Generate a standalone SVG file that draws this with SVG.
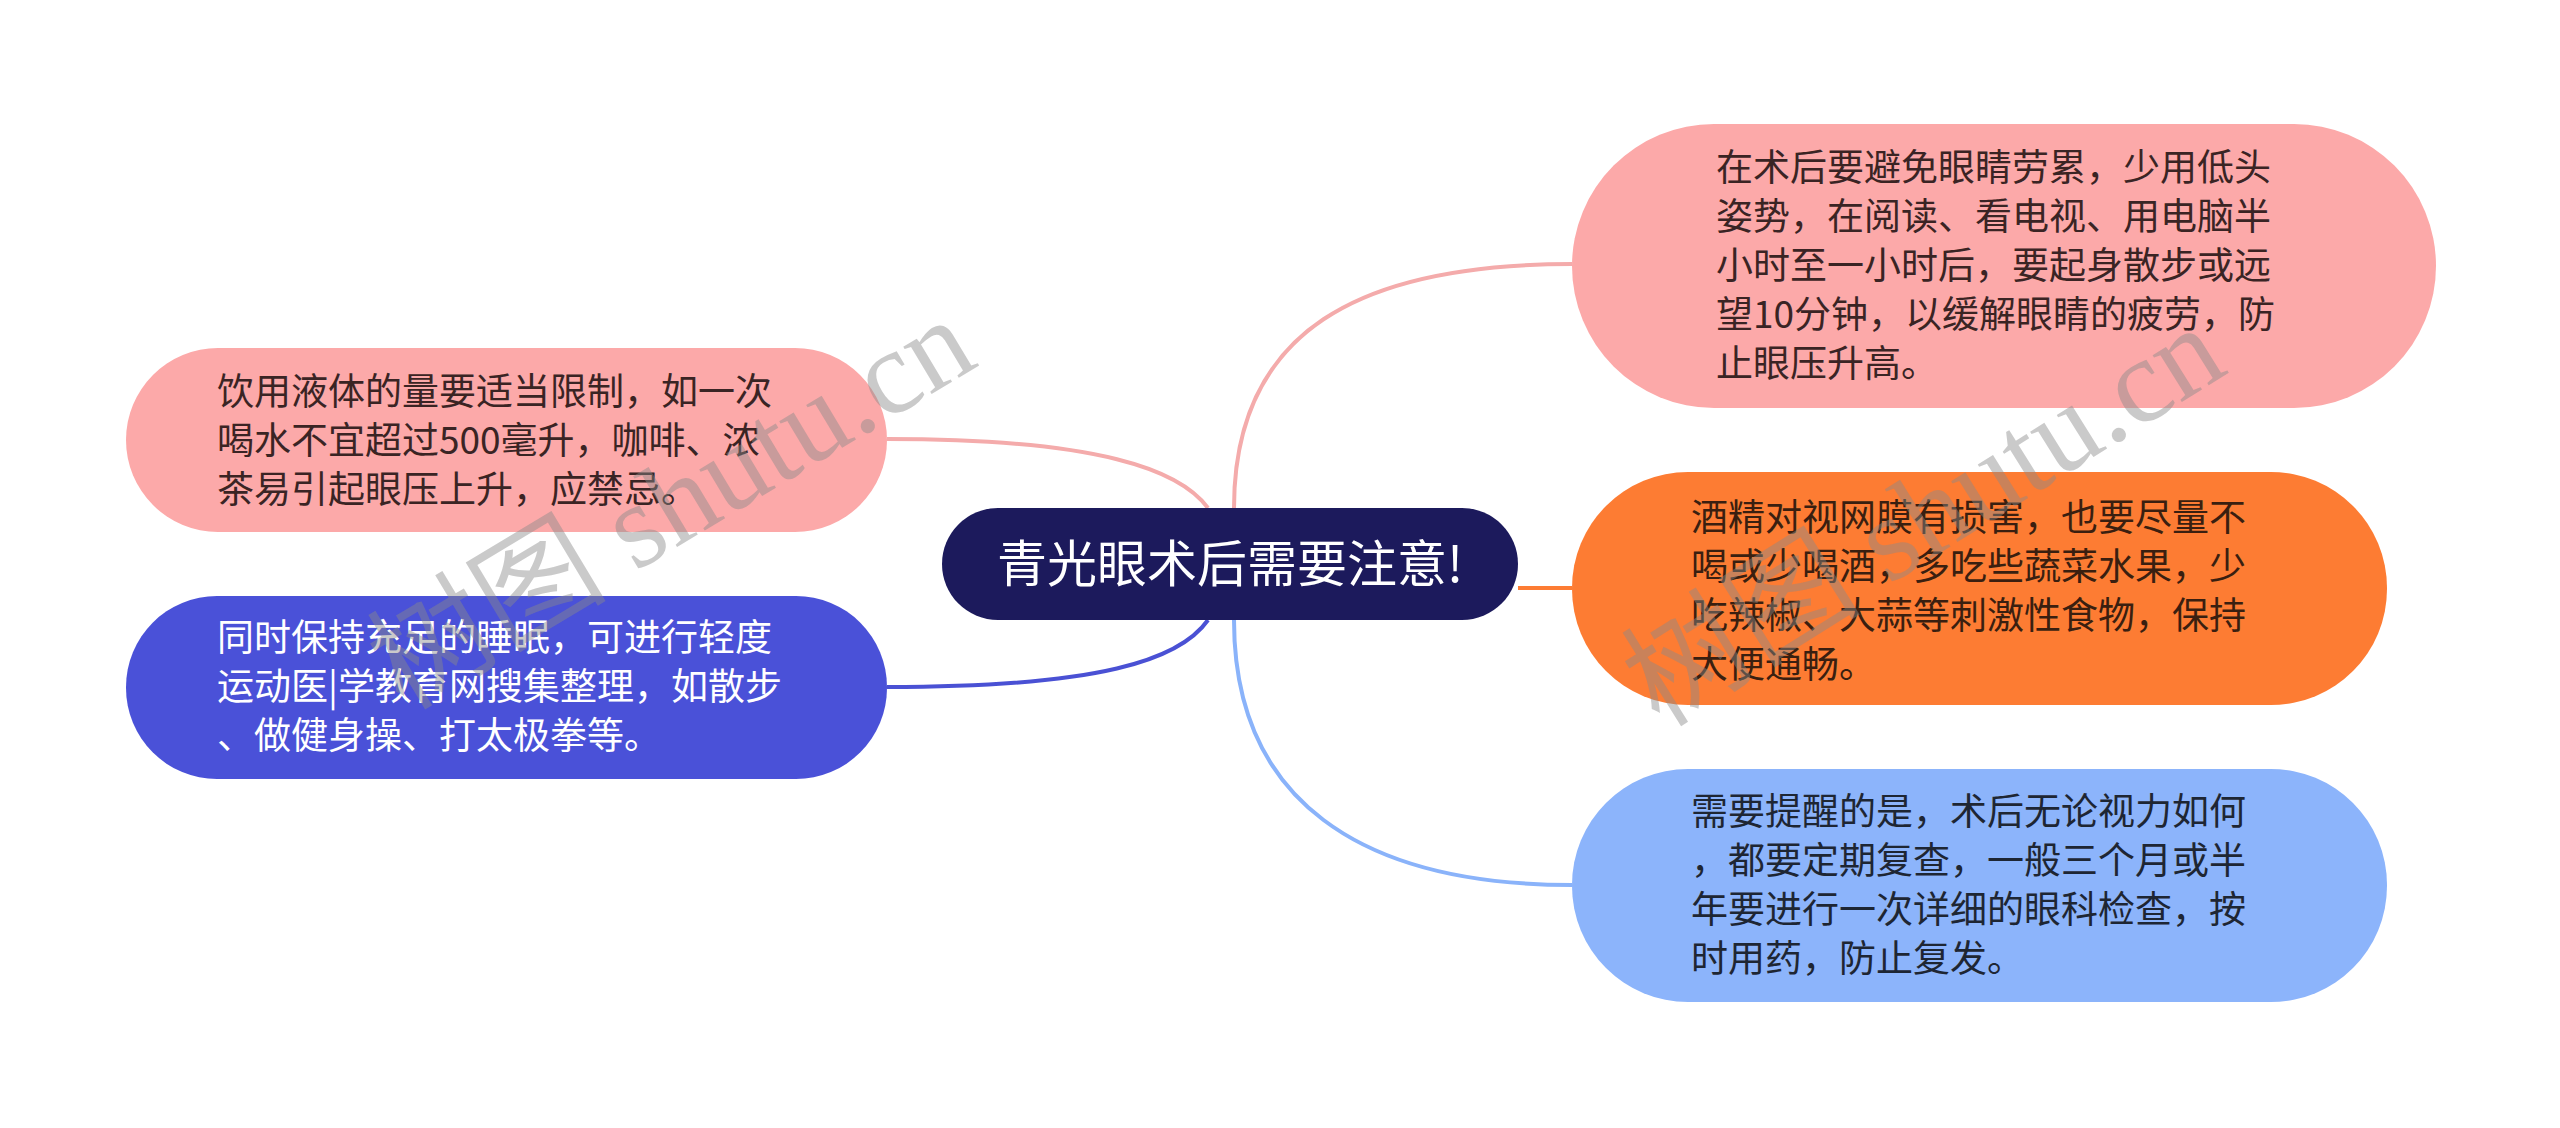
<svg xmlns="http://www.w3.org/2000/svg" width="2560" height="1128" viewBox="0 0 2560 1128">
<style>
.t{font-family:"Noto Sans CJK SC","Liberation Sans",sans-serif;font-size:37px}
.dark{fill:#3a2424}
.wm{font-family:"Liberation Serif","Noto Sans CJK SC",serif;font-size:120px;fill:#8a8a8a;fill-opacity:0.45}
.c{fill:none;stroke-width:4}
</style>
<rect width="2560" height="1128" fill="#ffffff"/>
<g id="connectors">
<path class="c" d="M1234 508 C1234 330 1360 264 1572 264" stroke="#f4abab"/>
<path class="c" d="M1518 588 L1572 588" stroke="#fd7c33"/>
<path class="c" d="M1234 620 C1234 800 1360 885 1572 885" stroke="#8ab3fa"/>
<path class="c" d="M1208 508 C1180 470 1100 439 887 439" stroke="#f4abab"/>
<path class="c" d="M1208 620 C1180 660 1100 687 887 687" stroke="#4a51d4"/>
</g>
<g id="center">
<rect x="942" y="508" width="576" height="112" rx="56" fill="#1c1a5c"/>
<text x="1230" y="582" text-anchor="middle" style="font-family:'Noto Sans CJK SC','Liberation Sans',sans-serif;font-size:50px" fill="#ffffff">青光眼术后需要注意!</text>
</g>
<g id="left1">
<rect x="126" y="348" width="761" height="184" rx="92" fill="#fca9a9"/>
<text class="t dark"><tspan x="217" y="405">饮用液体的量要适当限制，如一次</tspan><tspan x="217" y="454">喝水不宜超过500毫升，咖啡、浓</tspan><tspan x="217" y="503">茶易引起眼压上升，应禁忌。</tspan></text>
</g>
<g id="left2">
<rect x="126" y="596" width="761" height="183" rx="91" fill="#4a51d8"/>
<text class="t" fill="#ffffff"><tspan x="217" y="651">同时保持充足的睡眠，可进行轻度</tspan><tspan x="217" y="700">运动医|学教育网搜集整理，如散步</tspan><tspan x="217" y="749">、做健身操、打太极拳等。</tspan></text>
</g>
<g id="right1">
<rect x="1572" y="124" width="864" height="284" rx="142" fill="#fca9a9"/>
<text class="t dark"><tspan x="1716" y="181">在术后要避免眼睛劳累，少用低头</tspan><tspan x="1716" y="230">姿势，在阅读、看电视、用电脑半</tspan><tspan x="1716" y="279">小时至一小时后，要起身散步或远</tspan><tspan x="1716" y="328">望10分钟，以缓解眼睛的疲劳，防</tspan><tspan x="1716" y="377">止眼压升高。</tspan></text>
</g>
<g id="right2">
<rect x="1572" y="472" width="815" height="233" rx="116" fill="#fd7c33"/>
<text class="t" fill="#3a1f10"><tspan x="1691" y="531">酒精对视网膜有损害，也要尽量不</tspan><tspan x="1691" y="580">喝或少喝酒，多吃些蔬菜水果，少</tspan><tspan x="1691" y="629">吃辣椒、大蒜等刺激性食物，保持</tspan><tspan x="1691" y="678">大便通畅。</tspan></text>
</g>
<g id="right3">
<rect x="1572" y="769" width="815" height="233" rx="116" fill="#8cb4fb"/>
<text class="t" fill="#1e2633"><tspan x="1691" y="825">需要提醒的是，术后无论视力如何</tspan><tspan x="1691" y="874">，都要定期复查，一般三个月或半</tspan><tspan x="1691" y="923">年要进行一次详细的眼科检查，按</tspan><tspan x="1691" y="972">时用药，防止复发。</tspan></text>
</g>
<g id="watermarks">
<text class="wm" transform="translate(692 538) rotate(-31)" text-anchor="middle">树图 shutu.cn</text>
<text class="wm" transform="translate(1945 550) rotate(-32)" text-anchor="middle">树图 shutu.cn</text>
</g>
</svg>
